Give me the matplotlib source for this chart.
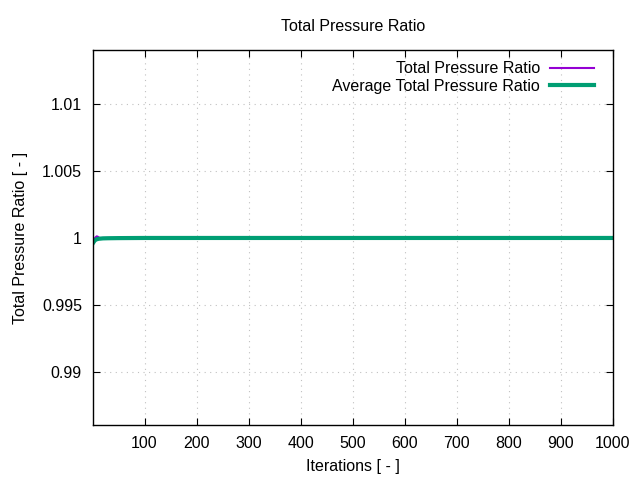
import matplotlib
matplotlib.use("Agg")
import matplotlib.pyplot as plt

# iteration samples (sparse)
iterations = [1, 2, 3, 4, 5, 6, 8, 10, 12, 15, 20, 30, 50, 100, 200, 500, 1000]
total_pr = [0.99970, 0.99980, 0.99990, 0.99995, 1.00000, 1.00005, 1.00012,
            1.00010, 1.00003, 1.00000, 1.00000, 1.00000, 1.00000, 1.00000,
            1.00000, 1.00000, 1.00000]
avg_pr = [0.99962, 0.99968, 0.99974, 0.99979, 0.99983, 0.99986, 0.99990,
          0.99992, 0.99994, 0.99995, 0.99997, 0.99998, 0.99999, 1.00000,
          1.00000, 1.00000, 1.00000]

xticks = [100, 200, 300, 400, 500, 600, 700, 800, 900, 1000]
yticks = [0.99, 0.995, 1.0, 1.005, 1.01]
ytick_labels = ["0.99", "0.995", "1", "1.005", "1.01"]

plt.rcParams['font.family'] = ['Liberation Sans', 'DejaVu Sans']
plt.rcParams['font.size'] = 11.5

fig = plt.figure(figsize=(6.4, 4.8), dpi=100)
ax = fig.add_axes([93 / 640, 55 / 480, 520 / 640, 375 / 480])

ax.plot(iterations, total_pr, color='#9400D3', lw=1.5, label='Total Pressure Ratio')
ax.plot(iterations, avg_pr, color='#009E73', lw=3, label='Average Total Pressure Ratio')

ax.set_xlim(1, 1000)
ax.set_ylim(0.98604, 1.01403)
ax.set_xticks(xticks)
ax.set_yticks(yticks)
ax.set_yticklabels(ytick_labels)
ax.tick_params(direction='in', top=True, right=True, length=5, pad=8)
ax.grid(True, color='#c0c0c0', linestyle=(0, (1, 4)), lw=0.8)
for s in ax.spines.values():
    s.set_linewidth(1.0)

ax.set_xlabel('Iterations [ - ]', labelpad=6)
ax.set_ylabel('Total Pressure Ratio [ - ]', labelpad=10)
ax.set_title('Total Pressure Ratio', fontsize=11.5, pad=14)

leg = ax.legend(loc='upper right', frameon=False, markerfirst=False,
                handlelength=2.75, borderaxespad=0.3, labelspacing=0.15,
                handletextpad=0.63, bbox_to_anchor=(0.985, 1.0))
for t in leg.get_texts():
    t.set_ha('right')

fig.savefig('out.png', dpi=100)
